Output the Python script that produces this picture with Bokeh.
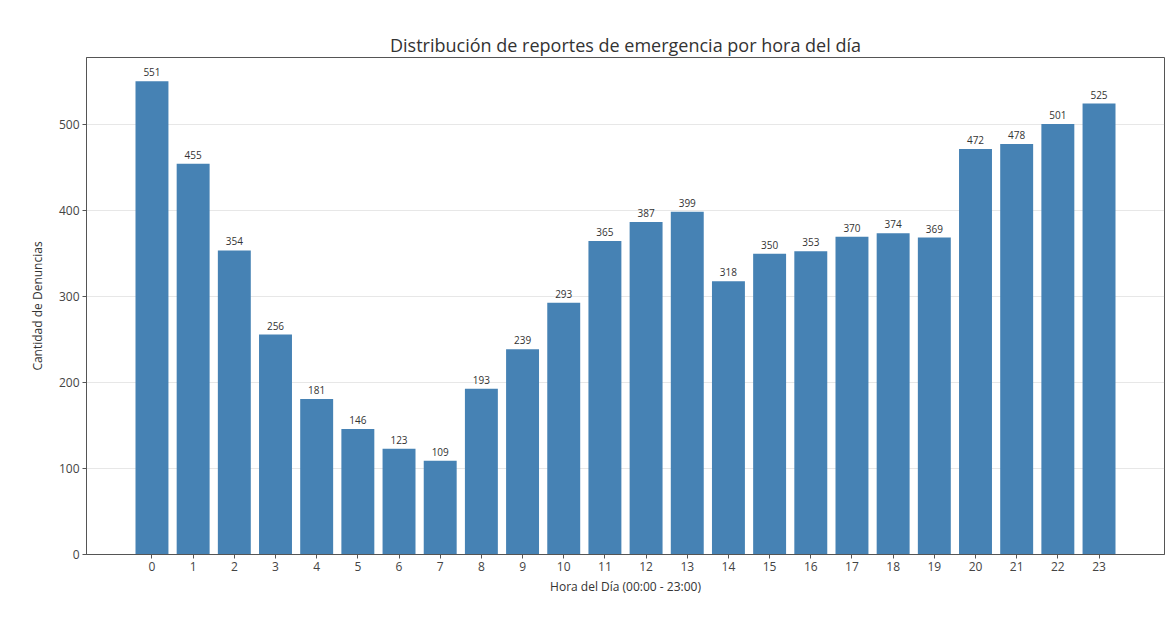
from bokeh.plotting import figure
from bokeh.models import ColumnDataSource, Range1d, FixedTicker, LabelSet
from bokeh.core.properties import value
from bokeh.embed import file_html
from bokeh.resources import INLINE

hours = list(range(24))
counts = [551, 455, 354, 256, 181, 146, 123, 109, 193, 239, 293, 365,
          387, 399, 318, 350, 353, 370, 374, 369, 472, 478, 501, 525]
title_text = "Distribución de reportes de emergencia por hora del día"
x_label = "Hora del Día (00:00 - 23:00)"
y_label = "Cantidad de Denuncias"
y_ticks = [0, 100, 200, 300, 400, 500]

FONT = "Open Sans"

src = ColumnDataSource(dict(x=hours, top=counts, lbl=[str(c) for c in counts]))

span = (max(hours) + 0.4) - (min(hours) - 0.4)
p = figure(width=1166, height=616, output_backend="svg", toolbar_location=None,
           x_range=Range1d(min(hours) - 0.4 - 0.05 * span, max(hours) + 0.4 + 0.05 * span),
           y_range=Range1d(0, max(counts) * 1.05),
           min_border_left=86, min_border_right=2, min_border_top=57, min_border_bottom=62)

p.title.text = title_text
p.title.align = "center"
p.title.text_font = FONT
p.title.text_font_size = "18px"
p.title.text_font_style = "normal"
p.title.text_color = "#333333"
p.title.standoff = 2

p.vbar(x="x", top="top", width=0.8, source=src, fill_color="#4682B4", line_color=None)

labels = LabelSet(x="x", y="top", text="lbl", source=src, text_align="center",
                  text_baseline="bottom", y_offset=5, text_font_size="10px",
                  text_color="#333333", text_font=value(FONT))
p.add_layout(labels)

p.xaxis.ticker = FixedTicker(ticks=hours)
p.yaxis.ticker = FixedTicker(ticks=y_ticks)
for ax in (p.xaxis, p.yaxis):
    ax.major_tick_in = 0
    ax.major_tick_out = 4
    ax.minor_tick_line_color = None
    ax.axis_line_color = "#555555"
    ax.major_tick_line_color = "#555555"
    ax.major_label_text_font = FONT
    ax.major_label_text_font_size = "12px"
    ax.major_label_text_color = "#444444"
    ax.axis_label_text_font = FONT
    ax.axis_label_text_font_size = "12px"
    ax.axis_label_text_font_style = "normal"
    ax.axis_label_text_color = "#333333"
    ax.major_label_standoff = 3
p.xaxis.axis_label = x_label
p.yaxis.axis_label = y_label
p.xaxis.axis_label_standoff = 4
p.yaxis.axis_label_standoff = 10

p.xgrid.grid_line_color = None
p.ygrid.grid_line_color = "#b0b0b0"
p.ygrid.grid_line_alpha = 0.3
p.outline_line_color = "#555555"
p.outline_line_alpha = 1.0

open("out.html", "w").write(file_html(p, INLINE))
